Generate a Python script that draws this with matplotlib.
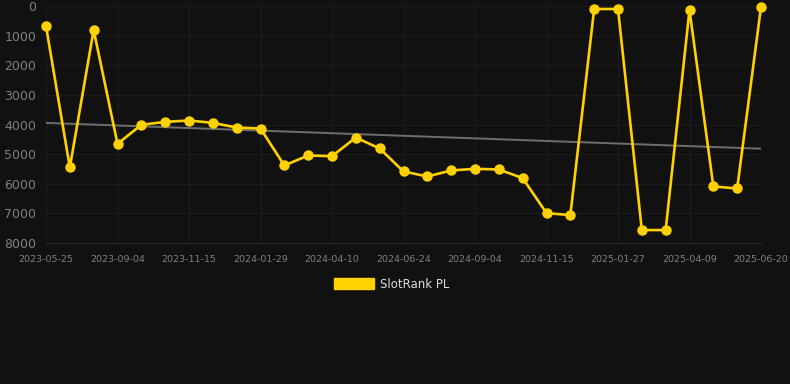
import matplotlib
matplotlib.use("Agg")
import matplotlib.pyplot as plt
import numpy as np
from matplotlib.patches import Patch

# Data
ranks = [674, 5450, 809, 4653, 4012, 3911, 3866, 3945, 4102, 4136,
         5383, 5046, 5069, 4440, 4810, 5586, 5754, 5552, 5496, 5518,
         5810, 6990, 7058, 101, 101, 7563, 7563, 135, 6092, 6159, 34]
tick_labels = ["2023-05-25", "2023-09-04", "2023-11-15", "2024-01-29", "2024-04-10",
               "2024-06-24", "2024-09-04", "2024-11-15", "2025-01-27", "2025-04-09",
               "2025-06-20"]
y_ticks = [0, 1000, 2000, 3000, 4000, 5000, 6000, 7000, 8000]
series_name = "SlotRank PL"

BG = "#111111"
GOLD = "#FFD100"

fig = plt.figure(figsize=(7.9, 3.84), dpi=100, facecolor=BG)
ax = fig.add_axes([46/790, 1-243/384, 715/790, 237/384], facecolor=BG)

x = np.arange(len(ranks))
ax.plot(x, ranks, color=GOLD, lw=1.9, marker="o", ms=6.5, clip_on=False,
        solid_joinstyle="miter", zorder=3)

# trend line (linear regression)
k, b = np.polyfit(x, ranks, 1)
ax.plot([x[0], x[-1]], [k*x[0]+b, k*x[-1]+b], color="#6e6e6e", lw=1.4, zorder=2)

ax.set_ylim(8000, 0)
ax.set_yticks(y_ticks)
ax.set_yticklabels([str(v) for v in y_ticks])
step = 3
ax.set_xticks(x[::step])
ax.set_xticklabels(tick_labels)
ax.set_xlim(0, len(ranks) - 1)

ax.grid(True, color="#1c1c1c", lw=0.8)
for s in ax.spines.values():
    s.set_visible(False)
ax.spines["bottom"].set_visible(True)
ax.spines["bottom"].set_color("#2a2a2a")
ax.spines["bottom"].set_linewidth(0.8)
ax.tick_params(axis="y", length=0, pad=7, labelsize=9, labelcolor="#808080")
ax.tick_params(axis="x", length=0, pad=9, labelsize=6.8, labelcolor="#808080")

fig.legend(handles=[Patch(facecolor=GOLD, edgecolor=GOLD, label=series_name)],
           loc="center", bbox_to_anchor=(392/790, 1-284/384), frameon=False,
           handlelength=3.4, handleheight=1.0, handletextpad=0.5,
           fontsize=8.5, labelcolor="#dddddd")

fig.savefig("out.png", dpi=100, facecolor=BG)
